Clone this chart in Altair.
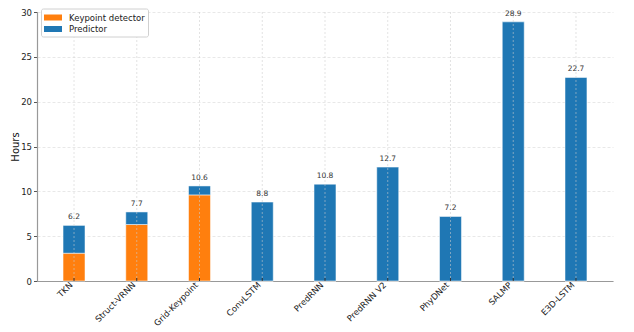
import altair as alt
import pandas as pd

models = ["TKN", "Struct-VRNN", "Grid-Keypoint", "ConvLSTM", "PredRNN",
          "PredRNN V2", "PhyDNet", "SALMP", "E3D-LSTM"]
keypoint = [3.1, 6.3, 9.6, 0, 0, 0, 0, 0, 0]
totals = [6.2, 7.7, 10.6, 8.8, 10.8, 12.7, 7.2, 28.9, 22.7]
predictor = [round(t - k, 2) for t, k in zip(totals, keypoint)]
y_ticks = [0, 5, 10, 15, 20, 25, 30]

H = 269
W = 576

rows = []
for m, k, p in zip(models, keypoint, predictor):
    rows.append({"model": m, "part": "Keypoint detector", "hours": k, "ord": 0})
    rows.append({"model": m, "part": "Predictor", "hours": p, "ord": 1})
df = pd.DataFrame(rows)
tot = pd.DataFrame({"model": models, "total": totals,
                    "label": [f"{t:.1f}" for t in totals]})

xscale = alt.Scale(paddingInner=0.65, paddingOuter=0.415)
xenc = alt.X("model:N", sort=models, title=None, scale=xscale,
             axis=alt.Axis(labelAngle=315, labelAlign="right", labelBaseline="middle",
                           labelFontSize=8.5, labelColor="#222", labelPadding=2,
                           labelOffset=-3, bandPosition=0.5, grid=False, ticks=False,
                           domainColor="#999", domainWidth=1.2))

bars = alt.Chart(df).mark_bar(stroke="white", strokeOpacity=0.5, strokeWidth=1).encode(
    x=xenc,
    y=alt.Y("hours:Q", stack="zero", title="Hours",
            scale=alt.Scale(domain=[0, 30], nice=False),
            axis=alt.Axis(values=y_ticks, labelFontSize=8.5, labelPadding=2,
                          labelColor="#222", titleFontSize=10, titleFontWeight="normal",
                          titleColor="#111", titleX=-17, titleBaseline="bottom",
                          tickSize=3.5, tickColor="#555", gridDash=[3, 2],
                          gridColor="#e2e2e2", gridWidth=0.8, domainColor="#999",
                          domainWidth=1.2)),
    color=alt.Color("part:N", sort=["Keypoint detector", "Predictor"],
                    scale=alt.Scale(domain=["Keypoint detector", "Predictor"],
                                    range=["#ff7f0e", "#1f77b4"]),
                    legend=alt.Legend(title=None, orient="none", legendX=4, legendY=-3.5,
                                      symbolType="M-1.5,-0.5H1.5V0.5H-1.5Z", symbolSize=144,
                                      symbolStrokeWidth=0, symbolOffset=3,
                                      labelFontSize=8.5, labelColor="#222",
                                      rowPadding=0.5, padding=3,
                                      strokeColor="#d0d0d0", fillColor="white",
                                      cornerRadius=2, labelOffset=10)),
    order=alt.Order("ord:Q"),
)

base = alt.Chart(tot)
vgrid = base.mark_rule(color="#cccccc", strokeDash=[2, 2], strokeWidth=0.8,
                       opacity=0.7).encode(
    x=alt.X("model:N", sort=models, scale=xscale),
    y=alt.value(0), y2=alt.value(H))
xticks = base.mark_rule(color="#333", strokeWidth=1).encode(
    x=alt.X("model:N", sort=models, scale=xscale),
    y=alt.value(H), y2=alt.value(H - 3))

labels = base.mark_text(dy=-4, fontSize=7.5, color="#333", baseline="bottom").encode(
    x=alt.X("model:N", sort=models),
    y=alt.Y("total:Q"),
    text="label:N",
)

chart = alt.layer(bars, vgrid, xticks, labels).properties(
    width=W, height=H,
    autosize=alt.AutoSizeParams(type="none"),
    padding={"left": 29, "top": 4, "right": 13, "bottom": 51},
).configure(font="DejaVu Sans").configure_view(stroke=None)

chart.save("out.html", embed_options={"renderer": "svg", "actions": False})
